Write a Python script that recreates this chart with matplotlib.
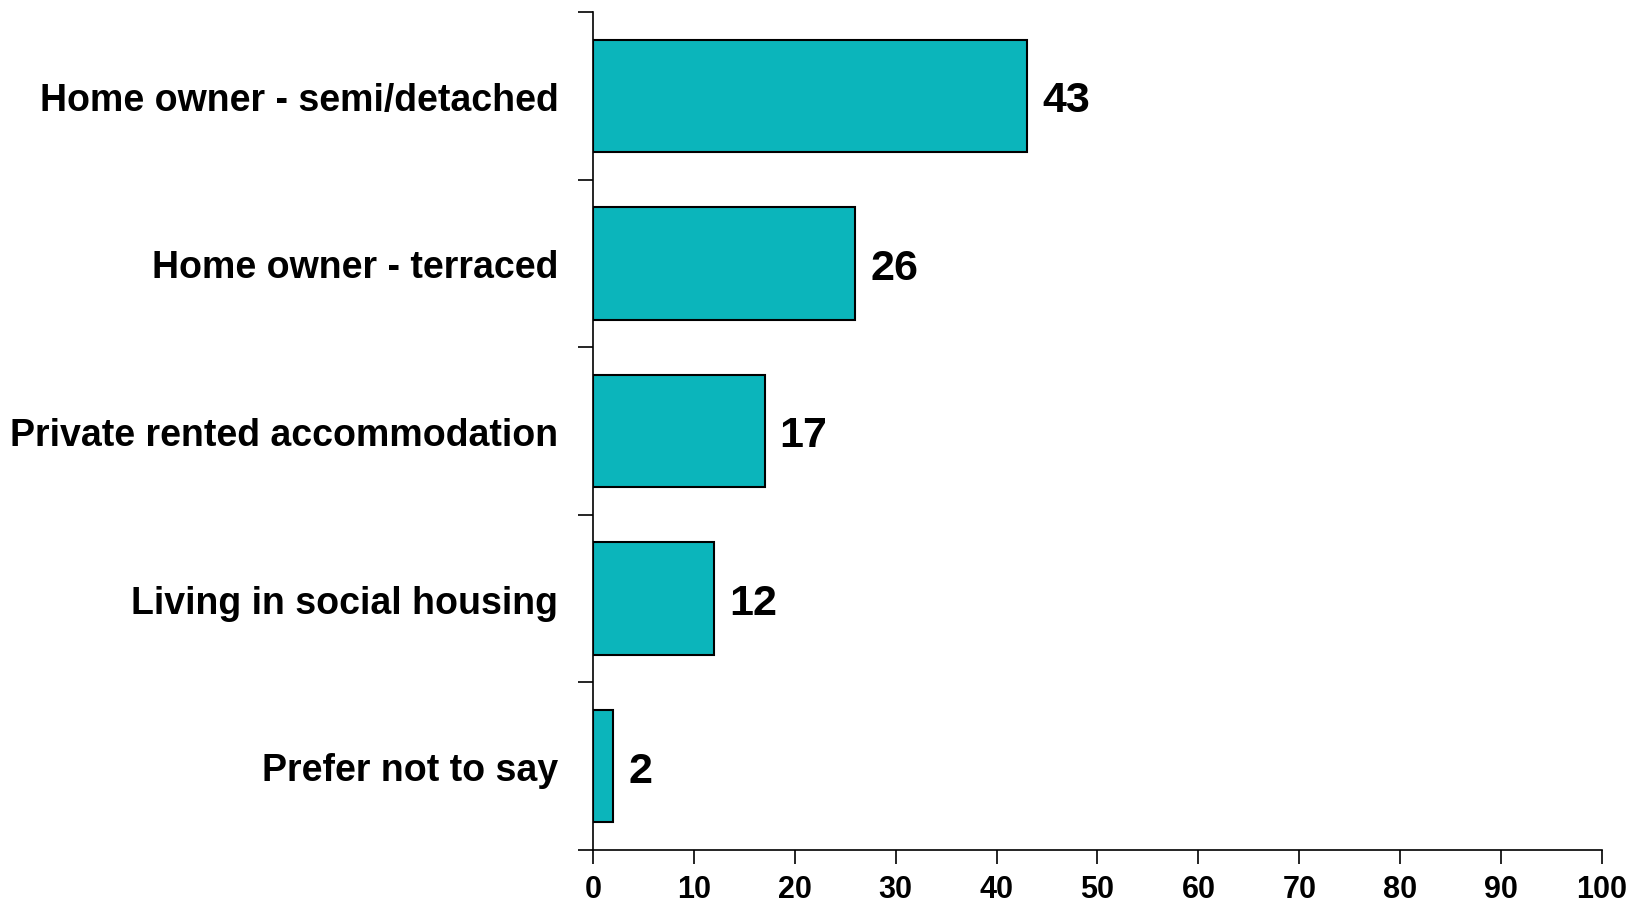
import matplotlib.pyplot as plt
import numpy as np

categories = ['Home owner - semi/detached', 'Home owner - terraced',
              'Private rented accommodation', 'Living in social housing',
              'Prefer not to say']
values = [43, 26, 17, 12, 2]

plt.rcParams['font.family'] = 'Liberation Sans'
plt.rcParams['font.weight'] = 'bold'

fig = plt.figure(figsize=(16.35, 9.03), dpi=100)
ax = fig.add_axes([0.3627, 0.0576, 0.6171, 0.928])

y = np.arange(len(categories))[::-1]
ax.barh(y, values, height=0.67, color='#0BB5BB', edgecolor='black', linewidth=1.5)

# value labels just right of each bar
for yi, v in zip(y, values):
    ax.text(v + 1.5, yi, str(v), va='center_baseline', ha='left',
            fontsize=31, fontweight='bold')

ax.set_xlim(0, 100)
ax.set_ylim(-0.5, len(categories) - 0.5)
ax.set_xticks(range(0, 101, 10))
ax.set_yticks(y)
ax.set_yticklabels(categories, fontsize=27, fontweight='bold', va='center_baseline')
# tick marks sit between the categories
ax.set_yticks(np.arange(-0.5, len(categories)), minor=True)
ax.tick_params(axis='y', which='major', length=0, pad=25)
ax.tick_params(axis='y', which='minor', length=11, width=1.2)
ax.tick_params(axis='x', length=10, width=1.2, labelsize=22, pad=7)
for lbl in ax.get_xticklabels():
    lbl.set_fontweight('bold')

ax.spines['top'].set_visible(False)
ax.spines['right'].set_visible(False)
ax.spines['left'].set_linewidth(1.2)
ax.spines['bottom'].set_linewidth(1.2)

fig.savefig('out.png', dpi=100)
